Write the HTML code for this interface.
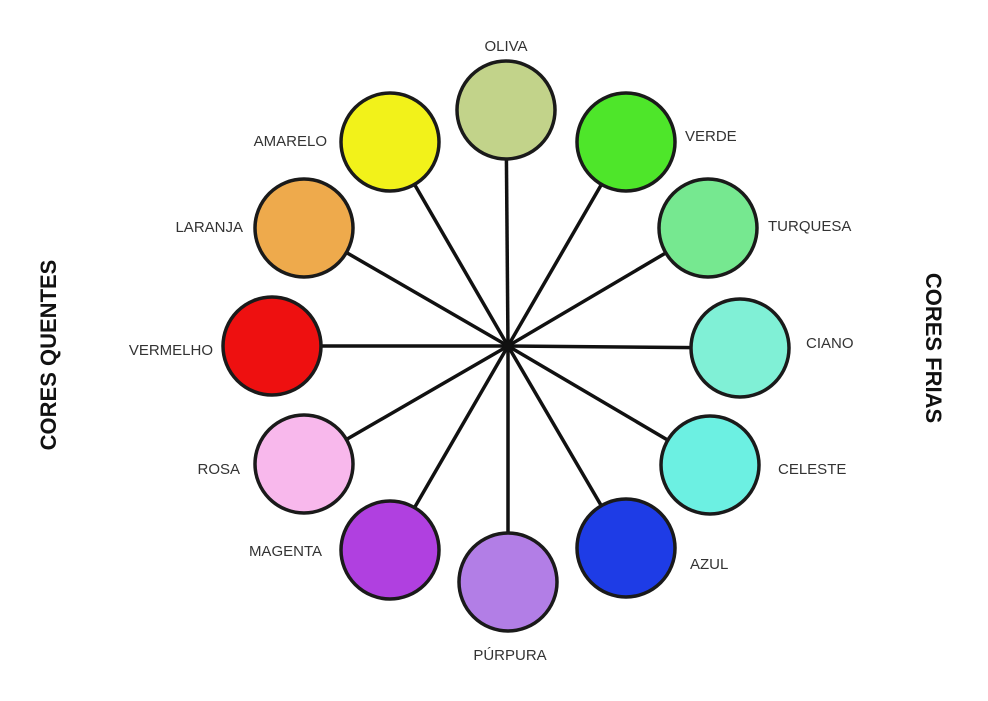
<!DOCTYPE html>
<html><head><meta charset="utf-8"><style>
body{margin:0;background:#fff}
svg text{font-family:"Liberation Sans",sans-serif;fill:#333;font-size:15px}
</style></head><body>
<svg width="988" height="696" viewBox="0 0 988 696" xmlns="http://www.w3.org/2000/svg">
<rect width="988" height="696" fill="#fff"/>
<g stroke="#111" stroke-width="3.5">
<line x1="508" y1="346" x2="506" y2="110"/>
<line x1="508" y1="346" x2="626" y2="142"/>
<line x1="508" y1="346" x2="708" y2="228"/>
<line x1="508" y1="346" x2="740" y2="348"/>
<line x1="508" y1="346" x2="710" y2="465"/>
<line x1="508" y1="346" x2="626" y2="548"/>
<line x1="508" y1="346" x2="508" y2="582"/>
<line x1="508" y1="346" x2="390" y2="550"/>
<line x1="508" y1="346" x2="304" y2="464"/>
<line x1="508" y1="346" x2="272" y2="346"/>
<line x1="508" y1="346" x2="304" y2="228"/>
<line x1="508" y1="346" x2="390" y2="142"/>
</g>
<circle cx="508" cy="346" r="5" fill="#111"/>
<g stroke="#1a1a1a" stroke-width="3.5">
<circle cx="506" cy="110" r="49" fill="#c2d38a"/>
<circle cx="626" cy="142" r="49" fill="#4ee62a"/>
<circle cx="708" cy="228" r="49" fill="#76e890"/>
<circle cx="740" cy="348" r="49" fill="#80f0d6"/>
<circle cx="710" cy="465" r="49" fill="#6cf0e2"/>
<circle cx="626" cy="548" r="49" fill="#1e3ce6"/>
<circle cx="508" cy="582" r="49" fill="#b27ee6"/>
<circle cx="390" cy="550" r="49" fill="#b040e0"/>
<circle cx="304" cy="464" r="49" fill="#f8b8ec"/>
<circle cx="272" cy="346" r="49" fill="#ee1010"/>
<circle cx="304" cy="228" r="49" fill="#eeaa4c"/>
<circle cx="390" cy="142" r="49" fill="#f2f21a"/>
</g>
<text x="506" y="51" text-anchor="middle">OLIVA</text>
<text x="685" y="141">VERDE</text>
<text x="768" y="231">TURQUESA</text>
<text x="806" y="348">CIANO</text>
<text x="778" y="474">CELESTE</text>
<text x="690" y="569">AZUL</text>
<text x="510" y="660" text-anchor="middle">PÚRPURA</text>
<text x="322" y="556" text-anchor="end">MAGENTA</text>
<text x="240" y="474" text-anchor="end">ROSA</text>
<text x="213" y="355" text-anchor="end">VERMELHO</text>
<text x="243" y="232" text-anchor="end">LARANJA</text>
<text x="327" y="146" text-anchor="end">AMARELO</text>
<text transform="translate(56,355) rotate(-90)" text-anchor="middle" style="font-size:22px;font-weight:bold;fill:#111">CORES QUENTES</text>
<text transform="translate(926,348) rotate(90)" text-anchor="middle" style="font-size:22px;font-weight:bold;fill:#111">CORES FRIAS</text>
</svg>
</body></html>
